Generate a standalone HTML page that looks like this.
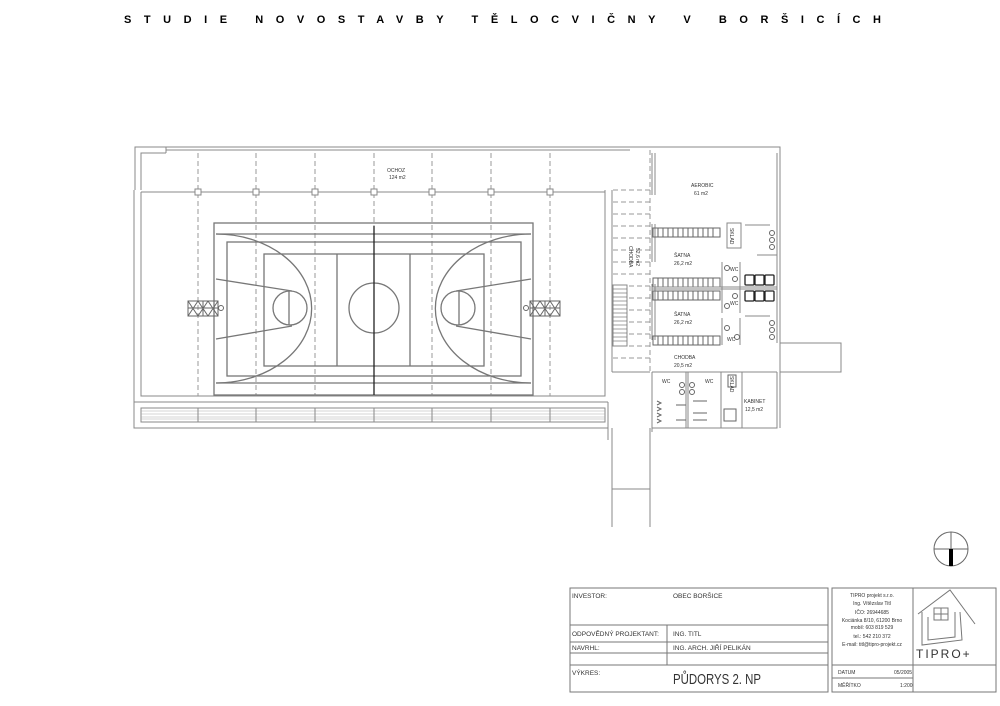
<!DOCTYPE html>
<html><head><meta charset="utf-8"><style>
html,body{margin:0;padding:0;background:#fff;}
svg{display:block;}
text{font-family:"Liberation Sans",sans-serif;fill:#333;}
</style></head><body>
<svg width="1000" height="706" viewBox="0 0 1000 706" xmlns="http://www.w3.org/2000/svg">
<text x="124" y="23" font-size="11" font-weight="bold" fill="#000" style="fill:#000" textLength="757" lengthAdjust="spacing">STUDIE NOVOSTAVBY TĚLOCVIČNY V BORŠICÍCH</text>

<g fill="none" stroke="#888" stroke-width="1">
<!-- hall outline -->
<path d="M135 190 V147 H166 V153 M166 147 H630 M166 150 H630 M141 190 V153 H166"/>
<path d="M134 190 V428 H608"/>
<path d="M141 192 V396 H605 V190"/>
<line x1="141" y1="192" x2="605" y2="192"/>
<line x1="134" y1="402" x2="608" y2="402"/>
<line x1="608" y1="402" x2="608" y2="440"/>
<line x1="612" y1="190" x2="612" y2="372"/>
<!-- bleachers -->
<rect x="141" y="408" width="464" height="14"/>
<g stroke="#aaa" stroke-width="0.6">
<line x1="141" y1="411" x2="605" y2="411"/><line x1="141" y1="414" x2="605" y2="414"/><line x1="141" y1="417" x2="605" y2="417"/><line x1="141" y1="419" x2="605" y2="419"/>
</g>
<g>
<line x1="198" y1="408" x2="198" y2="422"/><line x1="256" y1="408" x2="256" y2="422"/><line x1="315" y1="408" x2="315" y2="422"/><line x1="374" y1="408" x2="374" y2="422"/><line x1="432" y1="408" x2="432" y2="422"/><line x1="491" y1="408" x2="491" y2="422"/><line x1="550" y1="408" x2="550" y2="422"/>
</g>
<!-- dashed column lines -->
<g stroke-dasharray="5,3" stroke="#999">
<line x1="198" y1="153" x2="198" y2="396"/><line x1="256" y1="153" x2="256" y2="396"/><line x1="315" y1="153" x2="315" y2="396"/><line x1="374" y1="153" x2="374" y2="396"/><line x1="432" y1="153" x2="432" y2="396"/><line x1="491" y1="153" x2="491" y2="396"/><line x1="550" y1="153" x2="550" y2="396"/>
</g>
<g fill="#fff">
<rect x="195" y="189" width="6" height="6"/><rect x="253" y="189" width="6" height="6"/><rect x="312" y="189" width="6" height="6"/><rect x="371" y="189" width="6" height="6"/><rect x="429" y="189" width="6" height="6"/><rect x="488" y="189" width="6" height="6"/><rect x="547" y="189" width="6" height="6"/>
</g>
<!-- court -->
<g stroke="#777" stroke-width="1.3">
<rect x="214" y="223" width="319" height="172"/>
<line x1="216" y1="234" x2="531" y2="234"/><line x1="216" y1="383" x2="531" y2="383"/>
<rect x="227" y="242" width="294" height="134"/>
<rect x="264" y="254" width="220" height="112"/>
<line x1="337" y1="254" x2="337" y2="366"/><line x1="410" y1="254" x2="410" y2="366"/>
<circle cx="374" cy="308" r="25"/>
<path d="M216 234 A95 74 0 0 1 216 383"/>
<path d="M531 234 A95 74 0 0 0 531 383"/>
<path d="M216 279 L292 291 M216 339 L292 326"/>
<path d="M531 279 L456 291 M531 339 L456 326"/>
<circle cx="290" cy="308" r="17"/><line x1="289" y1="291" x2="289" y2="325"/>
<circle cx="458" cy="308" r="17"/><line x1="459" y1="291" x2="459" y2="325"/>
</g>
<line x1="374" y1="226" x2="374" y2="395" stroke="#222" stroke-width="1.3"/>
<!-- backboards -->
<g stroke="#666">
<rect x="188" y="301" width="30" height="15"/><path d="M188 301 L198 316 M198 301 L188 316 M198 301 L208 316 M208 301 L198 316 M208 301 L218 316 M218 301 L208 316 M203 301 V316 M188 308 H218"/>
<circle cx="221" cy="308" r="2.5"/>
<rect x="530" y="301" width="30" height="15"/><path d="M530 301 L540 316 M540 301 L530 316 M540 301 L550 316 M550 301 L540 316 M550 301 L560 316 M560 301 L550 316 M545 301 V316 M530 308 H560"/>
<circle cx="526" cy="308" r="2.5"/>
</g>
<!-- corridor -->
<g stroke-dasharray="5,3" stroke="#999">
<line x1="613" y1="190" x2="650" y2="190"/><line x1="613" y1="202" x2="650" y2="202"/><line x1="613" y1="214" x2="650" y2="214"/><line x1="613" y1="226" x2="650" y2="226"/><line x1="613" y1="238" x2="650" y2="238"/><line x1="613" y1="250" x2="650" y2="250"/><line x1="613" y1="262" x2="650" y2="262"/><line x1="613" y1="274" x2="650" y2="274"/><line x1="613" y1="286" x2="650" y2="286"/><line x1="613" y1="298" x2="650" y2="298"/><line x1="613" y1="310" x2="650" y2="310"/><line x1="613" y1="322" x2="650" y2="322"/><line x1="613" y1="334" x2="650" y2="334"/><line x1="613" y1="346" x2="650" y2="346"/><line x1="613" y1="358" x2="650" y2="358"/>
<line x1="650" y1="150" x2="650" y2="372"/>
</g>
<rect x="613" y="285" width="14" height="61" fill="#fff"/>
<g stroke="#777" stroke-width="0.7">
<line x1="613" y1="289" x2="627" y2="289"/><line x1="613" y1="293" x2="627" y2="293"/><line x1="613" y1="297" x2="627" y2="297"/><line x1="613" y1="301" x2="627" y2="301"/><line x1="613" y1="305" x2="627" y2="305"/><line x1="613" y1="309" x2="627" y2="309"/><line x1="613" y1="313" x2="627" y2="313"/><line x1="613" y1="317" x2="627" y2="317"/><line x1="613" y1="321" x2="627" y2="321"/><line x1="613" y1="325" x2="627" y2="325"/><line x1="613" y1="329" x2="627" y2="329"/><line x1="613" y1="333" x2="627" y2="333"/><line x1="613" y1="337" x2="627" y2="337"/><line x1="613" y1="341" x2="627" y2="341"/>
</g>
<path d="M612 372 H650 M612 428 V527 M650 428 V527 M612 489 H650"/>
<!-- right block -->
<path d="M630 147 H780 V343 M777 153 V343 M777 372 V428 H652 M780 372 V428"/>
<path d="M652 153 V195 M655 153 V195 M652 224 V262 M655 224 V262 M652 284 V340 M655 284 V340 M652 372 V432"/>
<rect x="780" y="343" width="61" height="29"/>
<!-- benches -->
<g stroke="#666">
<rect x="653" y="228" width="67" height="9"/><rect x="653" y="278" width="67" height="9"/><rect x="653" y="291" width="67" height="9"/><rect x="653" y="336" width="67" height="9"/>
<path d="M658 228V237M663 228V237M668 228V237M673 228V237M678 228V237M683 228V237M688 228V237M693 228V237M698 228V237M703 228V237M708 228V237M713 228V237"/>
<path d="M658 278V287M663 278V287M668 278V287M673 278V287M678 278V287M683 278V287M688 278V287M693 278V287M698 278V287M703 278V287M708 278V287M713 278V287"/>
<path d="M658 291V300M663 291V300M668 291V300M673 291V300M678 291V300M683 291V300M688 291V300M693 291V300M698 291V300M703 291V300M708 291V300M713 291V300"/>
<path d="M658 336V345M663 336V345M668 336V345M673 336V345M678 336V345M683 336V345M688 336V345M693 336V345M698 336V345M703 336V345M708 336V345M713 336V345"/>
</g>
<path d="M652 289 H777 M652 287 H777"/>
<rect x="727" y="223" width="14" height="25"/>
<path d="M745 225 H770 M757 255 H777"/>
<path d="M722 262 V313 M740 262 V313 M722 318 V345 M740 318 V345 M745 316 H770"/>
<g stroke="#222" stroke-width="1.3">
<rect x="745" y="275" width="9" height="10" rx="1"/><rect x="755" y="275" width="9" height="10" rx="1"/><rect x="765" y="275" width="9" height="10" rx="1"/>
<rect x="745" y="291" width="9" height="10" rx="1"/><rect x="755" y="291" width="9" height="10" rx="1"/><rect x="765" y="291" width="9" height="10" rx="1"/>
</g>
<g stroke="#666"><circle cx="772" cy="233" r="2.5"/><circle cx="772" cy="240" r="2.5"/><circle cx="772" cy="247" r="2.5"/><circle cx="772" cy="323" r="2.5"/><circle cx="772" cy="330" r="2.5"/><circle cx="772" cy="337" r="2.5"/>
<circle cx="727" cy="268" r="2.5"/><circle cx="735" cy="279" r="2.5"/><circle cx="735" cy="296" r="2.5"/><circle cx="727" cy="306" r="2.5"/><circle cx="727" cy="328" r="2.5"/><circle cx="737" cy="337" r="2.5"/></g>
<!-- lower rooms -->
<path d="M652 372 H777 M686 372 V428 M688 372 V428 M721 372 V428 M742 372 V428"/>
<g stroke="#666"><circle cx="682" cy="385" r="2.5"/><circle cx="682" cy="392" r="2.5"/><circle cx="692" cy="385" r="2.5"/><circle cx="692" cy="392" r="2.5"/><rect x="728" y="375" width="8" height="12"/><rect x="724" y="409" width="12" height="12"/>
<path d="M657 401l4 2-4 2M657 407l4 2-4 2M657 413l4 2-4 2M657 419l4 2-4 2M676 405h10M676 420h10M693 401h14M693 413h14M693 420h14"/></g>
</g>
<g font-size="5" fill="#444">
<text x="387" y="172">OCHOZ</text><text x="389" y="179">124 m2</text>
<text x="691" y="187">AEROBIC</text><text x="694" y="195">61 m2</text>
<text x="674" y="257">ŠATNA</text><text x="674" y="265">26,2 m2</text>
<text x="674" y="316">ŠATNA</text><text x="674" y="324">26,2 m2</text>
<text x="674" y="359">CHODBA</text><text x="674" y="367">20,5 m2</text>
<text x="744" y="403">KABINET</text><text x="745" y="411">12,5 m2</text>
<text x="730" y="271">WC</text><text x="730" y="305">WC</text><text x="727" y="341">WC</text>
<text x="662" y="383">WC</text><text x="705" y="383">WC</text>
<text transform="translate(629,246) rotate(90)">CHODBA</text><text transform="translate(636,248) rotate(90)">52,6 m2</text>
<text transform="translate(730,228) rotate(90)">SKLAD</text><text transform="translate(730,376) rotate(90)">SKLAD</text>
</g>
<!-- north -->
<g stroke="#666" fill="none"><circle cx="951" cy="549" r="17"/><line x1="934" y1="549" x2="968" y2="549"/><line x1="951" y1="532" x2="951" y2="549"/></g>
<rect x="949" y="549" width="4" height="17" fill="#000"/>
<!-- title block -->
<g fill="none" stroke="#777">
<rect x="570" y="588" width="258" height="104"/>
<path d="M570 625 H828 M570 642 H828 M570 653 H828 M570 665 H828 M667 625 V665"/>
<rect x="832" y="588" width="81" height="104"/>
<path d="M832 665 H913 M832 678 H913"/>
<rect x="913" y="588" width="83" height="104"/>
<path d="M913 665 H996"/>
<path d="M918 614 L950 590 L975 624 M922 612 V645 L962 640 L960 612 M928 617 V640 L955 637 V612 M934 608 h14 v12 h-14z M934 614 h14 M941 608 v12"/>
</g>
<g font-size="6.5" fill="#333">
<text x="572" y="598">INVESTOR:</text><text x="673" y="598">OBEC BORŠICE</text>
<text x="572" y="636">ODPOVĚDNÝ PROJEKTANT:</text><text x="673" y="636">ING. TITL</text>
<text x="572" y="650">NAVRHL:</text><text x="673" y="650">ING. ARCH. JIŘÍ PELIKÁN</text>
<text x="572" y="675">VÝKRES:</text>
<text x="838" y="674" font-size="5">DATUM</text><text x="894" y="674" font-size="5">05/2005</text>
<text x="838" y="687" font-size="5">MĚŘÍTKO</text><text x="900" y="687" font-size="5">1:200</text>
</g>
<text x="673" y="684" font-size="15" fill="#111" textLength="88" lengthAdjust="spacingAndGlyphs">PŮDORYS 2. NP</text>
<g font-size="5" fill="#333" text-anchor="middle">
<text x="872" y="597">TIPRO projekt s.r.o.</text><text x="872" y="605">Ing. Vítězslav Titl</text><text x="872" y="614">IČO: 26944685</text><text x="872" y="622">Kociánka 8/10, 61200 Brno</text><text x="872" y="629">mobil: 603 819 529</text><text x="872" y="638">tel.: 542 210 372</text><text x="872" y="646">E-mail: titl@tipro-projekt.cz</text>
</g>
<text x="916" y="658" font-size="12" fill="#555" letter-spacing="2">TIPRO+</text>
</svg>
</body></html>
